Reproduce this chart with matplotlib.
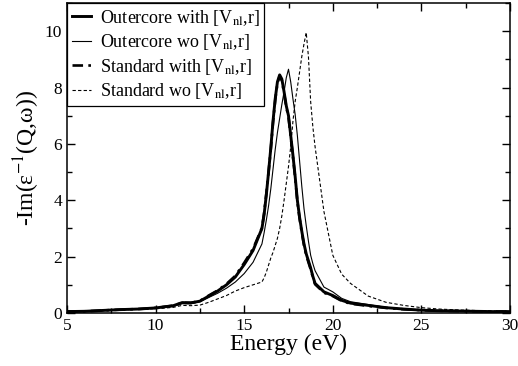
import matplotlib
matplotlib.use("Agg")
import matplotlib.pyplot as plt
from matplotlib.ticker import MultipleLocator

plt.rcParams["font.family"] = ["Liberation Serif", "DejaVu Serif"]
plt.rcParams["mathtext.fontset"] = "stix"

# energy grid (eV), finer around the plasmon peaks
energy = [5, 6, 7, 8, 9, 10, 11, 11.5, 12, 12.5, 13, 13.5, 14, 14.5, 15, 15.5,
          16, 16.125, 16.25, 16.375, 16.5, 16.625, 16.75, 16.875,
          17, 17.125, 17.25, 17.375, 17.5, 17.625, 17.75, 17.875,
          18, 18.125, 18.25, 18.375, 18.5, 18.625, 18.75, 18.875, 19,
          19.5, 20, 20.5, 21, 22, 23, 24, 25, 26, 27, 28, 29, 30]

outer_with = [0.05, 0.06, 0.09, 0.12, 0.14, 0.18, 0.26, 0.37, 0.36, 0.42,
              0.60, 0.78, 1.00, 1.28, 1.72, 2.22,
              3.00, 3.50, 4.20, 5.00, 5.85, 6.80, 7.60, 8.20,
              8.45, 8.30, 7.85, 7.35, 7.00, 6.30, 5.60, 4.85,
              4.00, 3.40, 2.90, 2.45, 2.10, 1.85, 1.60, 1.30, 1.05,
              0.75, 0.62, 0.45, 0.35, 0.27, 0.19, 0.14, 0.10, 0.08, 0.07,
              0.06, 0.05, 0.05]

outer_wo = [0.05, 0.06, 0.09, 0.12, 0.14, 0.17, 0.24, 0.33, 0.33, 0.40,
            0.55, 0.70, 0.88, 1.10, 1.40, 1.80,
            2.45, 2.85, 3.30, 3.80, 4.40, 5.10, 5.80, 6.40,
            6.90, 7.40, 7.85, 8.35, 8.65, 8.20, 7.60, 7.05,
            6.30, 5.40, 4.50, 3.70, 3.10, 2.55, 2.05, 1.75, 1.50,
            0.92, 0.75, 0.52, 0.40, 0.30, 0.20, 0.15, 0.11, 0.09, 0.07,
            0.06, 0.05, 0.05]

std_with = [0.05, 0.06, 0.09, 0.12, 0.14, 0.18, 0.26, 0.36, 0.36, 0.43,
            0.62, 0.80, 1.03, 1.32, 1.78, 2.28,
            3.02, 3.55, 4.25, 5.00, 5.80, 6.75, 7.55, 8.15,
            8.40, 8.25, 7.80, 7.30, 6.95, 6.25, 5.55, 4.80,
            3.95, 3.35, 2.85, 2.40, 2.05, 1.80, 1.55, 1.27, 1.02,
            0.72, 0.60, 0.43, 0.33, 0.25, 0.18, 0.13, 0.10, 0.08, 0.07,
            0.06, 0.05, 0.05]

std_wo = [0.04, 0.05, 0.08, 0.11, 0.13, 0.15, 0.20, 0.27, 0.26, 0.28,
          0.38, 0.50, 0.62, 0.78, 0.90, 1.00,
          1.10, 1.25, 1.45, 1.70, 1.95, 2.15, 2.40, 2.65,
          3.00, 3.45, 4.00, 4.60, 5.20, 5.90, 6.80, 7.50,
          8.00, 8.55, 9.10, 9.55, 9.95, 9.10, 7.50, 6.60, 5.90,
          3.60, 2.05, 1.38, 1.05, 0.60, 0.38, 0.27, 0.19, 0.14, 0.11,
          0.09, 0.07, 0.06]

labels = [r"Outercore with [V$_{\rm nl}$,r]",
          r"Outercore wo [V$_{\rm nl}$,r]",
          r"Standard with [V$_{\rm nl}$,r]",
          r"Standard wo [V$_{\rm nl}$,r]"]

fig = plt.figure(figsize=(5.18, 3.66), dpi=100)
ax = fig.add_axes([67 / 518, 53 / 366, 443 / 518, 310 / 366])

ax.plot(energy, outer_with, color="black", lw=2.1, label=labels[0])
ax.plot(energy, outer_wo, color="black", lw=0.8, label=labels[1])
ax.plot(energy, std_with, color="black", lw=1.9,
        linestyle=(0, (4, 2, 1, 2)), label=labels[2])
ax.plot(energy, std_wo, color="black", lw=0.8,
        linestyle=(0, (3, 2)), label=labels[3])

ax.set_xlim(5, 30)
ax.set_ylim(0, 11)
ax.xaxis.set_major_locator(MultipleLocator(5))
ax.xaxis.set_minor_locator(MultipleLocator(2.5))
ax.yaxis.set_major_locator(MultipleLocator(2))
ax.yaxis.set_minor_locator(MultipleLocator(1))
ax.tick_params(which="both", direction="in", top=True, right=True,
               labelsize=12.5, width=1.0)
ax.tick_params(which="major", length=6)
ax.tick_params(which="minor", length=3.5)
for s in ax.spines.values():
    s.set_linewidth(1.1)

ax.set_xlabel("Energy (eV)", fontsize=17, labelpad=0)
ax.set_ylabel(r"-Im(ε$^{-1}$(Q,ω))", fontsize=17, labelpad=2)

leg = ax.legend(loc="upper left", fontsize=13, frameon=True, fancybox=False,
                edgecolor="black", framealpha=1, borderaxespad=0,
                handlelength=1.1, handletextpad=0.45, labelspacing=0.25,
                borderpad=0.25)
leg.get_frame().set_linewidth(0.9)

fig.savefig("out.png", dpi=100)
